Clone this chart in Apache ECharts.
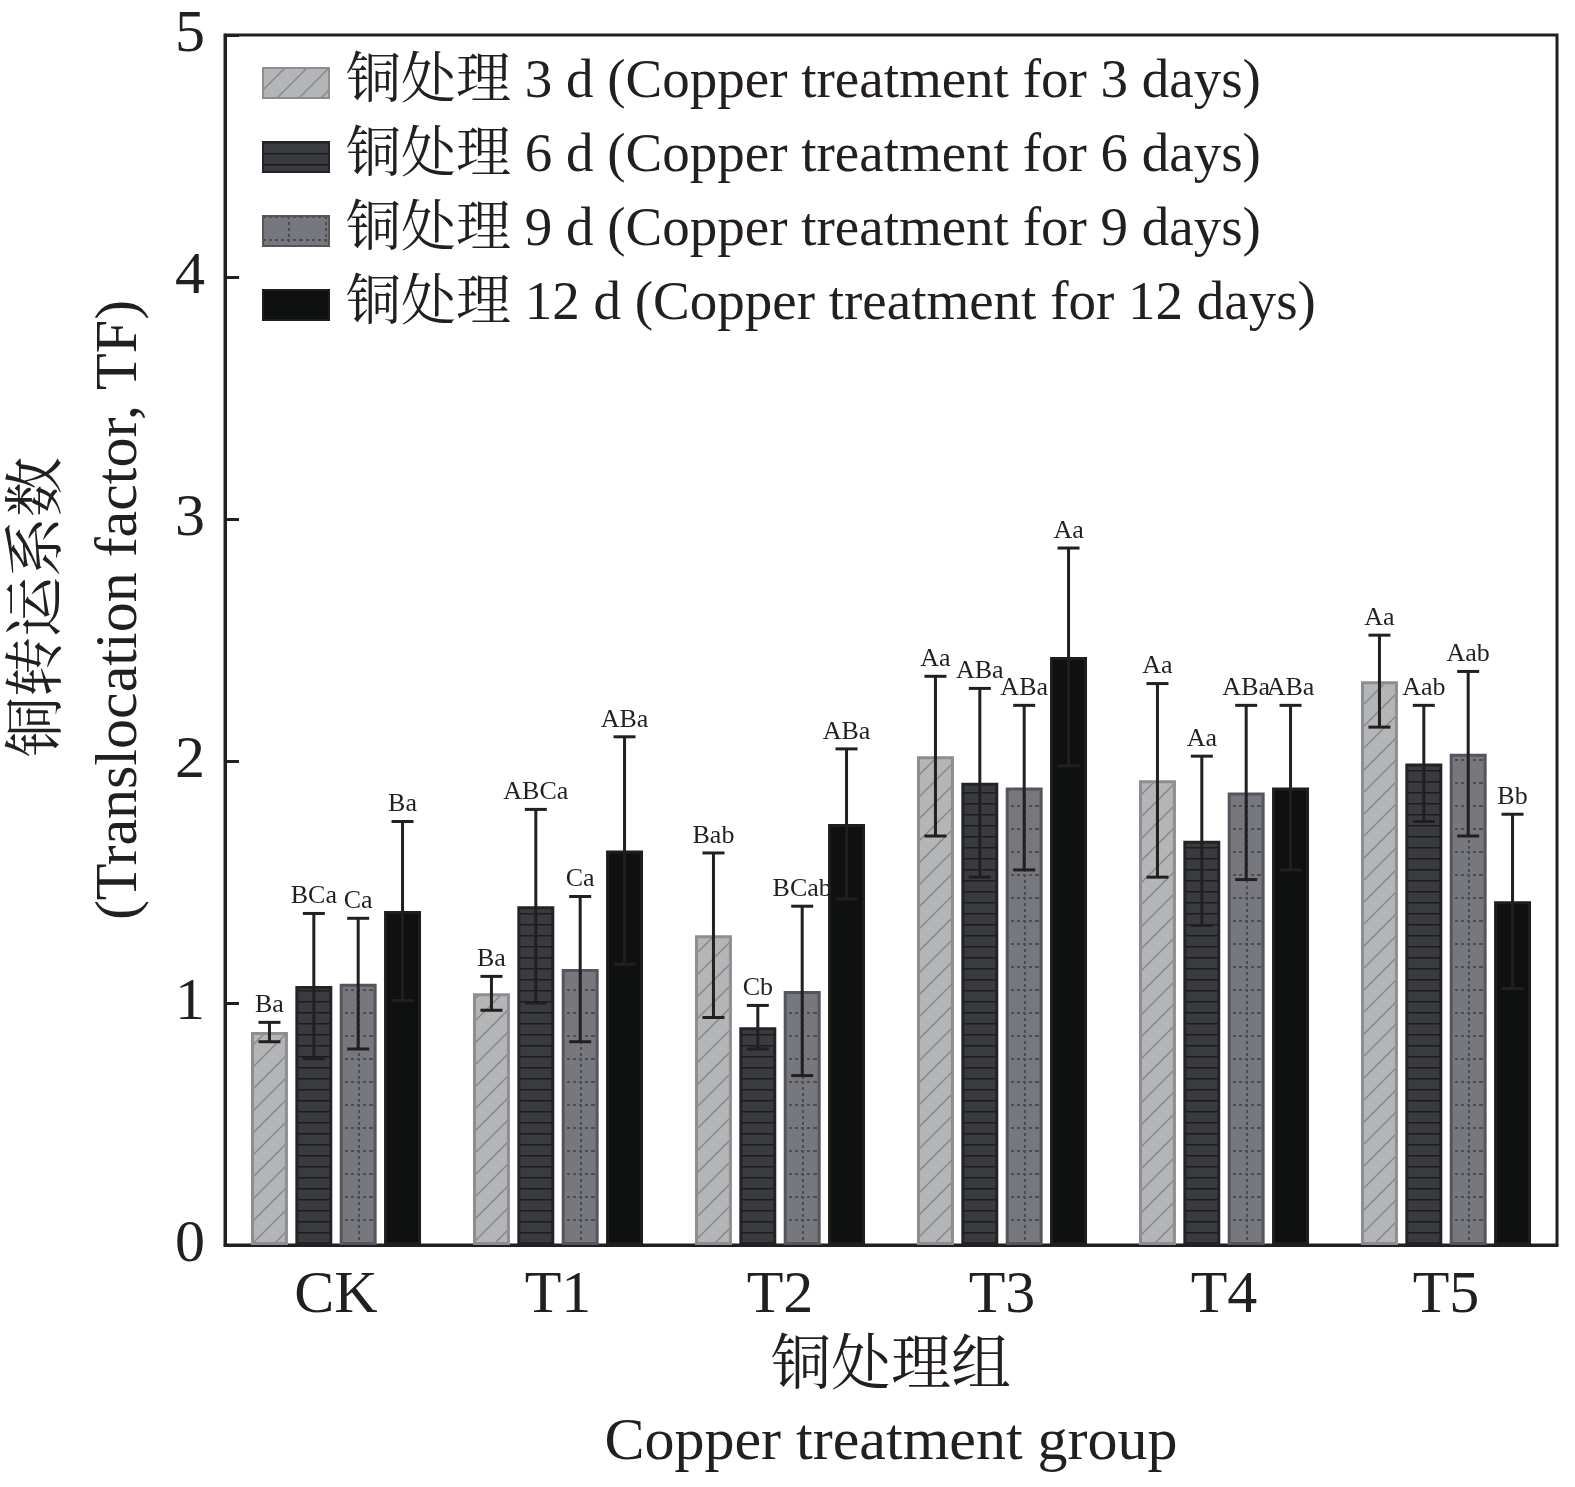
<!DOCTYPE html>
<html lang="zh">
<head>
    <meta charset="UTF-8">
    <title>铜转运系数</title>
    <script type="text/javascript" src="https://cdn.jsdelivr.net/npm/echarts@6.0.0/dist/echarts.min.js"></script>
    <style>
        body { margin: 0; background: #fff; }
        #main { width: 1575px; height: 1487px; }
    </style>
</head>
<body>
    <div id="main"></div>
</body>

<script type="text/javascript">
    // 处理组
    var groups = ['CK', 'T1', 'T2', 'T3', 'T4', 'T5'];
    var seriesNames = [
        '铜处理 3 d (Copper treatment for 3 days)',
        '铜处理 6 d (Copper treatment for 6 days)',
        '铜处理 9 d (Copper treatment for 9 days)',
        '铜处理 12 d (Copper treatment for 12 days)'
    ];

    // 转运系数均值
    var tf3 = [0.88, 1.04, 1.28, 2.02, 1.92, 2.33];
    var tf6 = [1.07, 1.40, 0.90, 1.91, 1.67, 1.99];
    var tf9 = [1.08, 1.14, 1.05, 1.89, 1.87, 2.03];
    var tf12 = [1.38, 1.63, 1.74, 2.43, 1.89, 1.42];

    // 标准差
    var sd3 = [0.04, 0.07, 0.34, 0.33, 0.40, 0.19];
    var sd6 = [0.30, 0.40, 0.09, 0.39, 0.35, 0.24];
    var sd9 = [0.27, 0.30, 0.35, 0.34, 0.36, 0.34];
    var sd12 = [0.37, 0.47, 0.31, 0.45, 0.34, 0.36];

    // 显著性字母
    var sig3 = ['Ba', 'Ba', 'Bab', 'Aa', 'Aa', 'Aa'];
    var sig6 = ['BCa', 'ABCa', 'Cb', 'ABa', 'Aa', 'Aab'];
    var sig9 = ['Ca', 'Ca', 'BCab', 'ABa', 'ABa', 'Aab'];
    var sig12 = ['Ba', 'ABa', 'ABa', 'Aa', 'ABa', 'Bb'];

    var yTicks = [0, 1, 2, 3, 4, 5];

    var means = [tf3, tf6, tf9, tf12];
    var sds = [sd3, sd6, sd9, sd12];
    var sigs = [sig3, sig6, sig9, sig12];

    var FONT = "'Times New Roman', 'Liberation Serif', 'Noto Serif CJK SC', 'Noto Sans CJK SC', serif";
    var INK = '#231f20';
    var CAT_GAP = 0.234, BAR_GAP = 0.2;

    // 填充图案
    function makePattern(kind) {
        var c = document.createElement('canvas');
        var ctx;
        if (kind == 'hatch') {
            c.width = 22; c.height = 22;
            ctx = c.getContext('2d');
            ctx.fillStyle = '#b4b5b6';
            ctx.fillRect(0, 0, 22, 22);
            ctx.strokeStyle = '#88898c';
            ctx.lineWidth = 1.5;
            ctx.beginPath();
            ctx.moveTo(-2, 24); ctx.lineTo(24, -2);
            ctx.moveTo(-4, 4); ctx.lineTo(4, -4);
            ctx.moveTo(18, 26); ctx.lineTo(26, 18);
            ctx.stroke();
        } else if (kind == 'hline') {
            c.width = 4; c.height = 11;
            ctx = c.getContext('2d');
            ctx.fillStyle = '#3a3b3f';
            ctx.fillRect(0, 0, 4, 11);
            ctx.fillStyle = '#1c1d20';
            ctx.fillRect(0, 0, 4, 1.5);
        } else {
            c.width = 37; c.height = 23;
            ctx = c.getContext('2d');
            ctx.fillStyle = '#76787d';
            ctx.fillRect(0, 0, 37, 23);
            ctx.fillStyle = '#4c4d52';
            for (var i = 0; i < 37; i += 6) ctx.fillRect(i, 0, 3, 2);
            for (var j = 0; j < 23; j += 6) ctx.fillRect(25, j, 2, 3);
        }
        return { image: c, repeat: 'repeat' };
    }

    var fills = [makePattern('hatch'), makePattern('hline'), makePattern('dots'), '#0f1010'];
    var borders = ['#8d8e91', '#222326', '#55565b', '#1e1e1f'];

    var barSeries = [];
    for (var s = 0; s < 4; s++) {
        barSeries.push({
            name: seriesNames[s],
            type: 'bar',
            data: means[s],
            barGap: (BAR_GAP * 100) + '%',
            barCategoryGap: (CAT_GAP * 100) + '%',
            itemStyle: {
                color: fills[s],
                borderColor: borders[s],
                borderWidth: 3
            }
        });
    }

    var errData = [];
    for (var s2 = 0; s2 < 4; s2++) {
        for (var g = 0; g < groups.length; g++) {
            errData.push([g, means[s2][g] - sds[s2][g], means[s2][g] + sds[s2][g], s2]);
        }
    }

    function renderError(params, api) {
        var g = api.value(0);
        var s = api.value(3);
        var lo = api.coord([g, api.value(1)]);
        var hi = api.coord([g, api.value(2)]);
        var band = api.size([1, 0])[0];
        var remained = band * (1 - CAT_GAP);
        var w = remained / (4 + 3 * BAR_GAP);
        var x = lo[0] - remained / 2 + s * w * (1 + BAR_GAP) + w / 2;
        var cap = 11;
        var st = { stroke: INK, lineWidth: 3 };
        return {
            type: 'group',
            children: [
                { type: 'line', shape: { x1: x, y1: hi[1], x2: x, y2: lo[1] }, style: st },
                { type: 'line', shape: { x1: x - cap, y1: hi[1], x2: x + cap, y2: hi[1] }, style: st },
                { type: 'line', shape: { x1: x - cap, y1: lo[1], x2: x + cap, y2: lo[1] }, style: st },
                {
                    type: 'text',
                    style: {
                        text: sigs[s][g],
                        x: x, y: hi[1] - 4,
                        align: 'center', verticalAlign: 'bottom',
                        fontSize: 26, fontFamily: FONT, fill: INK
                    }
                }
            ]
        };
    }

    var myChart = echarts.init(document.getElementById('main'));
    var option = {
        animation: false,
        backgroundColor: '#ffffff',
        grid: {
            left: 225, right: 18, top: 35, bottom: 242,
            outerBoundsMode: 'none',
            containLabel: false,
            show: true, borderColor: INK, borderWidth: 3
        },
        legend: {
            data: seriesNames,
            orient: 'vertical',
            left: 257, top: 50,
            icon: 'rect',
            itemWidth: 66, itemHeight: 30,
            itemGap: 18,
            textStyle: {
                fontSize: 55, fontFamily: FONT, color: INK,
                lineHeight: 56, padding: [0, 0, 0, 12]
            }
        },
        xAxis: {
            type: 'category',
            data: groups,
            axisLine: { lineStyle: { color: INK, width: 3 } },
            axisTick: { show: false },
            axisLabel: { fontSize: 60, fontFamily: FONT, color: INK, margin: 21 },
            name: '铜处理组\nCopper treatment group',
            nameLocation: 'middle',
            nameGap: 84,
            nameTextStyle: { fontSize: 60, fontFamily: FONT, color: INK, lineHeight: 75 }
        },
        yAxis: {
            type: 'value',
            min: yTicks[0], max: yTicks[yTicks.length - 1], interval: 1,
            splitLine: { show: false },
            axisLine: { show: true, lineStyle: { color: INK, width: 3 } },
            axisTick: { show: true, inside: true, length: 14, lineStyle: { color: INK, width: 3 } },
            axisLabel: { fontSize: 60, fontFamily: FONT, color: INK, margin: 20 }
        },
        graphic: [
            {
                type: 'text', x: 40, y: 607, rotation: Math.PI / 2,
                style: { text: '铜转运系数', fontSize: 60, fontFamily: FONT, fill: INK, align: 'center', verticalAlign: 'middle' }
            },
            {
                type: 'text', x: 120, y: 610, rotation: Math.PI / 2,
                style: { text: '(Translocation factor, TF)', fontSize: 60, fontFamily: FONT, fill: INK, align: 'center', verticalAlign: 'middle' }
            }
        ],
        series: barSeries.concat([{
            name: 'error',
            type: 'custom',
            renderItem: renderError,
            data: errData,
            encode: { x: 0, y: [1, 2] },
            z: 10,
            silent: true
        }])
    };
    myChart.setOption(option);
</script>
</html>
